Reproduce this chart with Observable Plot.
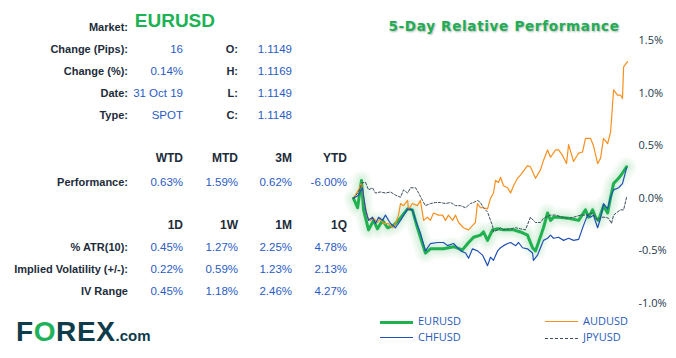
<!DOCTYPE html>
<html>
<head>
<meta charset="utf-8">
<script src="https://cdn.jsdelivr.net/npm/d3@7"></script>
<script src="https://cdn.jsdelivr.net/npm/@observablehq/plot@0.6"></script>
<style>
  html, body { margin: 0; padding: 0; background: #fff; }
  #page { position: relative; width: 676px; height: 358px; overflow: hidden; font-family: "Liberation Sans", Arial, sans-serif; }
  .t { position: absolute; white-space: nowrap; line-height: 14px; }
  .lab { font-weight: bold; font-size: 11px; color: #1d2c3a; }
  .val { font-size: 11.5px; color: #2a5bc4; }
  #title { position: absolute; left: 386px; width: 236px; top: 18px; text-align: center; font-family: "DejaVu Sans", Verdana, sans-serif; font-weight: bold; font-size: 13.5px; letter-spacing: 0.7px; color: #1fae55; text-shadow: 1px 1px 2px rgba(0,0,0,0.3); z-index: 2; white-space: nowrap; }
  #chart { position: absolute; left: 336px; top: 0; }
  .leg { position: absolute; font-family: "Open Sans", sans-serif; font-size: 11px; color: #2a5bb8; line-height: 14px; }
  .sw { position: absolute; width: 33px; height: 0; }
  #logo { position: absolute; left: 16px; top: 316px; font-family: "Liberation Sans", Arial, sans-serif; font-weight: bold; color: #0e3c4b; white-space: nowrap; }
</style>
</head>
<body>
<div id="page">
  <div id="title">5-Day Relative Performance</div>
  <div id="chart"></div>
  <div id="logo"><span style="font-size:28px;letter-spacing:0.6px">F<span style="color:#1fb25a">O</span>REX</span><span style="font-size:15px">.com</span></div>
</div>
<script>
// ---------- data ----------
const market = "EURUSD";
const infoLabels = ["Change (Pips):", "Change (%):", "Date:", "Type:"];
const infoValues = ["16", "0.14%", "31 Oct 19", "SPOT"];
const ohlcLabels = ["O:", "H:", "L:", "C:"];
const ohlcValues = ["1.1149", "1.1169", "1.1149", "1.1148"];
const perfHeaders = ["WTD", "MTD", "3M", "YTD"];
const perfValues = ["0.63%", "1.59%", "0.62%", "-6.00%"];
const volHeaders = ["1D", "1W", "1M", "1Q"];
const volLabels = ["% ATR(10):", "Implied Volatility (+/-):", "IV Range"];
const atrValues = ["0.45%", "1.27%", "2.25%", "4.78%"];
const ivValues = ["0.22%", "0.59%", "1.23%", "2.13%"];
const ivRangeValues = ["0.45%", "1.18%", "2.46%", "4.27%"];

const yTicks = [-1.0, -0.5, 0.0, 0.5, 1.0, 1.5];

// [hour, % change]
const eurusd = [[0,0],[1.8,-0.09],[3.5,0.17],[4.4,-0.11],[6.6,-0.30],[8.8,-0.21],[10.5,-0.29],[12.7,-0.21],[14.9,-0.28],[17.5,-0.26],[19.7,-0.21],[23.7,-0.10],[25.8,-0.11],[28.0,-0.28],[29.3,-0.37],[31.5,-0.52],[33.7,-0.48],[39.4,-0.48],[43.8,-0.46],[47.7,-0.49],[50.4,-0.42],[52.6,-0.37],[55.6,-0.35],[56.9,-0.32],[58.7,-0.40],[60.9,-0.30],[63.1,-0.29],[65.7,-0.30],[70.1,-0.30],[73.1,-0.32],[76.2,-0.35],[78.4,-0.47],[79.7,-0.50],[81.0,-0.42],[83.2,-0.28],[85.0,-0.14],[86.3,-0.21],[87.6,-0.18],[89.8,-0.18],[94.2,-0.19],[98.6,-0.21],[101.6,-0.11],[102.9,-0.18],[104.7,-0.11],[106.0,-0.18],[107.3,-0.21],[109.5,-0.07],[111.3,-0.14],[112.6,0.01],[113.9,0.14],[116.1,0.19],[117.8,0.24],[119.6,0.30]];
const chfusd = [[0,0],[2.2,0.03],[3.9,0.10],[5.3,-0.11],[6.6,-0.21],[8.3,-0.18],[9.6,-0.24],[11.0,-0.18],[12.7,-0.21],[14.0,-0.16],[16.2,-0.24],[18.4,-0.28],[20.6,-0.21],[23.7,-0.10],[25.8,-0.11],[27.2,-0.21],[29.3,-0.33],[31.5,-0.50],[33.7,-0.43],[36.8,-0.42],[39.4,-0.42],[41.2,-0.45],[43.8,-0.43],[46.9,-0.50],[49.1,-0.52],[50.4,-0.57],[52.1,-0.48],[54.3,-0.50],[56.5,-0.54],[58.7,-0.64],[60.0,-0.56],[61.3,-0.59],[63.1,-0.50],[64.4,-0.47],[65.7,-0.45],[67.5,-0.43],[68.8,-0.42],[71.0,-0.45],[72.3,-0.42],[74.0,-0.47],[76.2,-0.48],[78.4,-0.52],[78.8,-0.59],[80.6,-0.54],[81.9,-0.47],[83.2,-0.40],[85.0,-0.38],[86.3,-0.35],[87.6,-0.38],[89.8,-0.37],[92.0,-0.40],[94.2,-0.38],[96.4,-0.40],[98.6,-0.39],[100.7,-0.26],[102.5,-0.16],[103.8,-0.18],[105.1,-0.16],[106.9,-0.28],[108.2,-0.19],[109.5,-0.05],[111.3,-0.10],[112.6,0.01],[113.9,0.08],[116.1,0.10],[117.8,0.14],[119.6,0.29]];
const audusd = [[0,0],[2.2,0.08],[3.5,0.14],[4.4,0.01],[6.1,-0.18],[7.4,-0.21],[8.8,-0.19],[10.5,-0.23],[11.8,-0.19],[13.1,-0.24],[15.3,-0.24],[17.1,-0.28],[18.4,-0.24],[19.7,-0.16],[20.6,-0.05],[21.9,-0.07],[23.7,-0.02],[24.1,-0.11],[25.8,-0.05],[28.0,-0.07],[29.3,-0.02],[30.7,-0.21],[32.4,-0.18],[33.7,-0.21],[35.0,-0.14],[37.2,-0.16],[39.0,-0.16],[40.3,-0.21],[41.6,-0.16],[43.4,-0.21],[44.7,-0.16],[46.0,-0.23],[48.2,-0.28],[50.4,-0.30],[52.1,-0.26],[53.4,-0.23],[54.3,-0.05],[55.6,-0.09],[56.9,-0.09],[58.7,-0.10],[60.0,0.00],[61.3,0.05],[62.2,0.17],[63.5,0.15],[64.4,0.20],[65.7,0.12],[67.5,0.10],[68.8,0.05],[70.1,0.12],[71.8,0.19],[73.1,0.22],[76.2,0.31],[77.5,0.30],[79.7,0.19],[81.9,0.27],[83.2,0.36],[85.0,0.46],[86.3,0.39],[88.5,0.46],[89.8,0.46],[91.5,0.41],[93.3,0.33],[94.2,0.51],[96.4,0.35],[98.6,0.43],[100.3,0.44],[101.6,0.57],[103.8,0.57],[105.1,0.50],[106.9,0.33],[108.2,0.38],[109.5,0.57],[111.3,0.52],[112.6,0.63],[113.9,1.03],[115.6,0.98],[117.0,0.98],[117.8,0.95],[118.3,1.25],[120.0,1.30]];
const jpyusd = [[0,0],[2.2,0.06],[3.9,0.15],[5.3,0.15],[6.6,0.08],[8.3,0.10],[9.6,0.05],[11.8,0.06],[14.0,0.05],[16.2,0.06],[18.4,0.03],[20.6,0.01],[21.9,0.08],[23.7,0.05],[25.0,0.10],[27.2,0.10],[28.5,0.05],[30.2,-0.02],[31.5,-0.07],[33.7,-0.05],[35.9,-0.04],[38.1,-0.04],[40.3,-0.05],[42.5,-0.04],[44.7,-0.07],[46.9,-0.07],[49.1,-0.09],[51.2,-0.05],[52.6,-0.04],[54.3,-0.02],[55.6,-0.04],[56.9,-0.09],[58.7,-0.13],[60.0,-0.21],[60.9,-0.26],[61.3,-0.32],[63.1,-0.30],[64.4,-0.28],[65.7,-0.30],[68.8,-0.29],[71.0,-0.28],[73.1,-0.29],[75.3,-0.30],[77.5,-0.18],[79.7,-0.23],[81.9,-0.23],[83.2,-0.19],[86.3,-0.16],[88.5,-0.16],[91.5,-0.18],[93.7,-0.19],[96.4,-0.18],[99.4,-0.16],[101.6,-0.16],[104.7,-0.14],[106.9,-0.21],[108.2,-0.18],[110.4,-0.18],[111.7,-0.19],[113.0,-0.24],[113.9,-0.16],[115.6,-0.13],[117.0,-0.11],[118.3,-0.11],[119.6,0.01]];

const colors = { EURUSD: "#1fb04f", AUDUSD: "#f7901e", CHFUSD: "#2050b4", JPYUSD: "#3b4d5c" };

// ---------- left table ----------
const page = document.getElementById("page");
function put(text, cls, xRight, yc, extra) {
  const d = document.createElement("div");
  d.className = "t " + cls;
  d.textContent = text;
  d.style.right = (676 - xRight) + "px";
  d.style.top = (yc - 7) + "px";
  if (extra) Object.assign(d.style, extra);
  page.appendChild(d);
}
put("Market:", "lab", 128, 27);
put(market, "lab", 215, 21, { fontSize: "19px", color: "#1db254", lineHeight: "20px", top: "11px" });
const rowsY = [49, 71, 93, 115];
infoLabels.forEach((l, i) => { put(l, "lab", 128, rowsY[i]); put(infoValues[i], "val", 183, rowsY[i]); });
ohlcLabels.forEach((l, i) => { put(l, "lab", 238, rowsY[i]); put(ohlcValues[i], "val", 292, rowsY[i]); });
const colX = [183, 238, 292, 347];
perfHeaders.forEach((h, i) => put(h, "lab", colX[i], 158, { fontSize: "12px" }));
put("Performance:", "lab", 128, 182);
perfValues.forEach((v, i) => put(v, "val", colX[i], 182));
volHeaders.forEach((h, i) => put(h, "lab", colX[i], 225, { fontSize: "12px" }));
const volRowsY = [247, 269, 291];
[atrValues, ivValues, ivRangeValues].forEach((vals, r) => {
  put(volLabels[r], "lab", 128, volRowsY[r]);
  vals.forEach((v, i) => put(v, "val", colX[i], volRowsY[r]));
});

// ---------- chart ----------
const toRows = arr => arr.map(([t, v]) => ({ t, v }));
const eur = toRows(eurusd), aud = toRows(audusd), chf = toRows(chfusd), jpy = toRows(jpyusd);

const glowLayers = [20, 16, 12, 9, 6].map(w =>
  Plot.line(eur, { x: "t", y: "v", stroke: "#6fcf8e", strokeWidth: w, strokeOpacity: 0.06, strokeLinejoin: "round", strokeLinecap: "round" })
);

const chart = Plot.plot({
  width: 340,
  height: 315,
  marginLeft: 17,
  marginRight: 49,
  marginTop: 40,
  marginBottom: 12,
  style: { fontFamily: "'Open Sans', sans-serif", fontSize: "11px", color: "#22384a", background: "transparent", overflow: "visible" },
  x: { domain: [0, 120], axis: null },
  y: { domain: [-1.0, 1.5], axis: "right", ticks: yTicks, tickFormat: d => d.toFixed(1) + "%", tickSize: 0, tickPadding: 11, label: null },
  marks: [
    ...glowLayers,
    Plot.line(eur, { x: "t", y: "v", stroke: colors.EURUSD, strokeWidth: 3 }),
    Plot.line(aud, { x: "t", y: "v", stroke: colors.AUDUSD, strokeWidth: 1.2 }),
    Plot.line(chf, { x: "t", y: "v", stroke: colors.CHFUSD, strokeWidth: 1.2 }),
    Plot.line(jpy, { x: "t", y: "v", stroke: colors.JPYUSD, strokeWidth: 1, strokeDasharray: "2.5,1.8" })
  ]
});
document.getElementById("chart").appendChild(chart);

// ---------- legend ----------
const legendItems = [
  { name: "EURUSD", x: 380, y: 322, w: 3, dash: false },
  { name: "AUDUSD", x: 545, y: 322, w: 1.2, dash: false },
  { name: "CHFUSD", x: 380, y: 338, w: 1.2, dash: false },
  { name: "JPYUSD", x: 545, y: 338, w: 1, dash: true }
];
legendItems.forEach(it => {
  const s = document.createElement("div");
  s.className = "sw";
  s.style.left = it.x + "px";
  s.style.top = (it.y - it.w / 2) + "px";
  s.style.borderTop = it.w + "px " + (it.dash ? "dashed " : "solid ") + colors[it.name];
  page.appendChild(s);
  const l = document.createElement("div");
  l.className = "leg";
  l.textContent = it.name;
  l.style.left = (it.x + 38) + "px";
  l.style.top = (it.y - 8) + "px";
  page.appendChild(l);
});
</script>
</body>
</html>
